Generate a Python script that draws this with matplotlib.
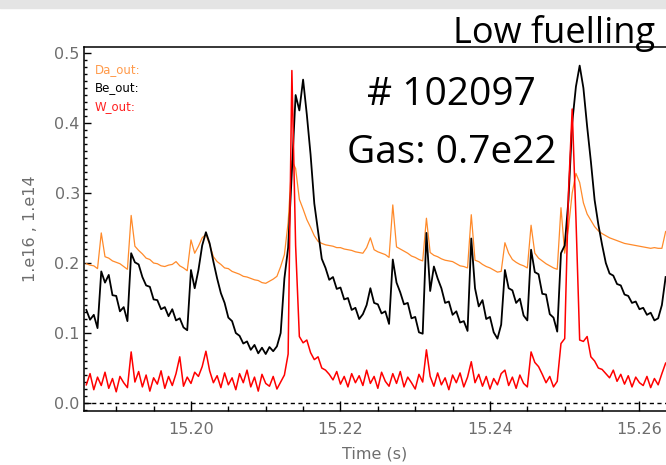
import numpy as np
import matplotlib.pyplot as plt
from matplotlib.patches import Rectangle
from matplotlib.ticker import MultipleLocator, FormatStrFormatter

# sample clock of the diagnostics (s)
t_start = 15.186
dt = 0.0005

# Da_out (orange)
da_out = [
    0.199, 0.197, 0.196, 0.192, 0.243, 0.209, 0.207, 0.203, 0.201, 0.199,
    0.195, 0.191, 0.268, 0.224, 0.218, 0.213, 0.207, 0.205, 0.200, 0.199,
    0.196, 0.195, 0.197, 0.198, 0.202, 0.196, 0.193, 0.189, 0.233, 0.214,
    0.224, 0.236, 0.241, 0.226, 0.209, 0.202, 0.198, 0.193, 0.192, 0.188,
    0.186, 0.184, 0.181, 0.180, 0.178, 0.176, 0.175, 0.172, 0.171, 0.174,
    0.177, 0.181, 0.195, 0.212, 0.258, 0.346, 0.335, 0.291, 0.277, 0.262,
    0.251, 0.239, 0.231, 0.228, 0.226, 0.225, 0.224, 0.222, 0.222, 0.220,
    0.219, 0.218, 0.216, 0.215, 0.214, 0.222, 0.236, 0.219, 0.216, 0.214,
    0.212, 0.208, 0.283, 0.223, 0.220, 0.217, 0.214, 0.210, 0.208, 0.205,
    0.203, 0.264, 0.215, 0.211, 0.209, 0.206, 0.204, 0.203, 0.202, 0.199,
    0.196, 0.195, 0.193, 0.269, 0.204, 0.202, 0.198, 0.195, 0.193, 0.190,
    0.187, 0.188, 0.229, 0.214, 0.205, 0.201, 0.198, 0.196, 0.193, 0.254,
    0.214, 0.207, 0.203, 0.199, 0.196, 0.193, 0.191, 0.279, 0.214, 0.250,
    0.300, 0.328, 0.315, 0.286, 0.270, 0.261, 0.252, 0.246, 0.242, 0.239,
    0.236, 0.234, 0.232, 0.230, 0.228, 0.227, 0.226, 0.225, 0.224, 0.223,
    0.222, 0.221, 0.222, 0.221, 0.221, 0.245,
]

# Be_out (black)
be_out = [
    0.133, 0.119, 0.126, 0.107, 0.188, 0.172, 0.183, 0.154, 0.153, 0.131,
    0.137, 0.117, 0.214, 0.201, 0.198, 0.180, 0.168, 0.166, 0.148, 0.147,
    0.134, 0.137, 0.124, 0.134, 0.118, 0.121, 0.108, 0.104, 0.190, 0.164,
    0.190, 0.225, 0.244, 0.228, 0.202, 0.178, 0.157, 0.143, 0.122, 0.117,
    0.100, 0.096, 0.085, 0.088, 0.076, 0.083, 0.071, 0.079, 0.070, 0.080,
    0.074, 0.081, 0.100, 0.178, 0.222, 0.330, 0.440, 0.418, 0.462, 0.412,
    0.355, 0.285, 0.245, 0.206, 0.193, 0.176, 0.180, 0.163, 0.165, 0.148,
    0.150, 0.133, 0.136, 0.120, 0.127, 0.140, 0.164, 0.143, 0.141, 0.128,
    0.131, 0.113, 0.205, 0.172, 0.158, 0.141, 0.143, 0.121, 0.123, 0.101,
    0.099, 0.243, 0.160, 0.195, 0.178, 0.164, 0.143, 0.145, 0.126, 0.131,
    0.115, 0.117, 0.103, 0.235, 0.164, 0.138, 0.147, 0.120, 0.123, 0.101,
    0.092, 0.112, 0.190, 0.164, 0.161, 0.143, 0.149, 0.125, 0.118, 0.219,
    0.187, 0.184, 0.156, 0.155, 0.127, 0.122, 0.102, 0.214, 0.225, 0.290,
    0.400, 0.452, 0.482, 0.450, 0.395, 0.345, 0.290, 0.255, 0.226, 0.200,
    0.185, 0.182, 0.170, 0.168, 0.155, 0.153, 0.143, 0.145, 0.134, 0.136,
    0.126, 0.129, 0.118, 0.121, 0.140, 0.180,
]

# W_out (red)
w_out = [
    0.026, 0.042, 0.019, 0.037, 0.025, 0.044, 0.021, 0.035, 0.016, 0.038,
    0.029, 0.022, 0.073, 0.030, 0.045, 0.023, 0.040, 0.017, 0.036, 0.027,
    0.046, 0.021, 0.038, 0.025, 0.042, 0.066, 0.024, 0.037, 0.028, 0.044,
    0.038, 0.052, 0.074, 0.046, 0.029, 0.039, 0.022, 0.043, 0.026, 0.036,
    0.019, 0.042, 0.029, 0.047, 0.023, 0.037, 0.017, 0.041, 0.028, 0.024,
    0.038, 0.020, 0.030, 0.040, 0.070, 0.475, 0.225, 0.095, 0.086, 0.090,
    0.072, 0.062, 0.066, 0.050, 0.047, 0.041, 0.033, 0.045, 0.027, 0.038,
    0.023, 0.042, 0.029, 0.039, 0.025, 0.047, 0.028, 0.038, 0.021, 0.044,
    0.031, 0.024, 0.042, 0.028, 0.045, 0.023, 0.037, 0.029, 0.020, 0.041,
    0.030, 0.076, 0.038, 0.024, 0.043, 0.026, 0.036, 0.019, 0.040, 0.029,
    0.043, 0.023, 0.037, 0.059, 0.029, 0.041, 0.024, 0.038, 0.020, 0.035,
    0.026, 0.042, 0.047, 0.025, 0.037, 0.021, 0.040, 0.028, 0.023, 0.073,
    0.058, 0.052, 0.041, 0.029, 0.038, 0.023, 0.031, 0.085, 0.092, 0.300,
    0.420, 0.265, 0.090, 0.088, 0.095, 0.066, 0.060, 0.050, 0.048, 0.042,
    0.036, 0.047, 0.031, 0.041, 0.027, 0.039, 0.023, 0.037, 0.029, 0.025,
    0.038, 0.022, 0.035, 0.026, 0.042, 0.057,
]

t = t_start + dt * np.arange(len(da_out))

grey = '#6e6e6e'
fig = plt.figure(figsize=(6.66, 4.65), dpi=100)
fig.patches.append(Rectangle((0, 1 - 8 / 465), 1, 8 / 465, transform=fig.transFigure,
                             color='#e4e4e4', zorder=0))
ax = fig.add_axes([84 / 666, 1 - 411 / 465, 582 / 666, 364 / 465])

ax.plot(t, da_out, color='#ff8a2a', lw=0.9)
ax.plot(t, be_out, color='black', lw=1.3)
ax.plot(t, w_out, color='#ff0000', lw=1.1)
ax.axhline(0.0, color='black', lw=1.0, ls=(0, (3, 2.5)))

ax.set_xlim(15.18569, 15.26355)
ax.set_ylim(-0.0114, 0.5086)

ax.xaxis.set_major_locator(MultipleLocator(0.02))
ax.xaxis.set_minor_locator(MultipleLocator(0.005))
ax.yaxis.set_major_locator(MultipleLocator(0.1))
ax.yaxis.set_minor_locator(MultipleLocator(0.01))
ax.xaxis.set_major_formatter(FormatStrFormatter('%.2f'))
ax.yaxis.set_major_formatter(FormatStrFormatter('%.1f'))

ax.tick_params(axis='x', which='major', direction='in', length=7.5, width=1.0,
               pad=8, labelsize=11.5, labelcolor=grey, top=False)
ax.tick_params(axis='x', which='minor', direction='in', length=3.5, width=1.0, top=False)
ax.tick_params(axis='y', which='major', direction='in', length=5, width=1.0,
               pad=3, labelsize=11.5, labelcolor=grey, right=False)
ax.tick_params(axis='y', which='minor', direction='in', length=2.5, width=1.0, right=False)
for side in ['left', 'bottom', 'top']:
    ax.spines[side].set_linewidth(1.1)
ax.spines['right'].set_visible(False)

ax.set_xlabel('Time (s)', fontsize=11.5, color=grey, labelpad=7)
ax.set_ylabel('1.e16 , 1.e14', fontsize=11.5, color=grey, labelpad=12)

# IDL-style legend
fig.text(95 / 666, 1 - 70 / 465, 'Da_out:', color='#ff9a4a', fontsize=8.5, va='center')
fig.text(95 / 666, 1 - 88 / 465, 'Be_out:', color='black', fontsize=8.5, va='center')
fig.text(95 / 666, 1 - 107 / 465, 'W_out:', color='#ff2020', fontsize=8.5, va='center')

# slide annotations
fig.text(655 / 666, 1 - 43 / 465, 'Low fuelling', fontsize=26, family='Open Sans',
         ha='right', va='baseline')
fig.text(451 / 666, 1 - 105 / 465, '# 102097', fontsize=28, family='Open Sans',
         ha='center', va='baseline')
fig.text(452 / 666, 1 - 163 / 465, 'Gas: 0.7e22', fontsize=28, family='Open Sans',
         ha='center', va='baseline')

fig.savefig('out.png', dpi=100)
